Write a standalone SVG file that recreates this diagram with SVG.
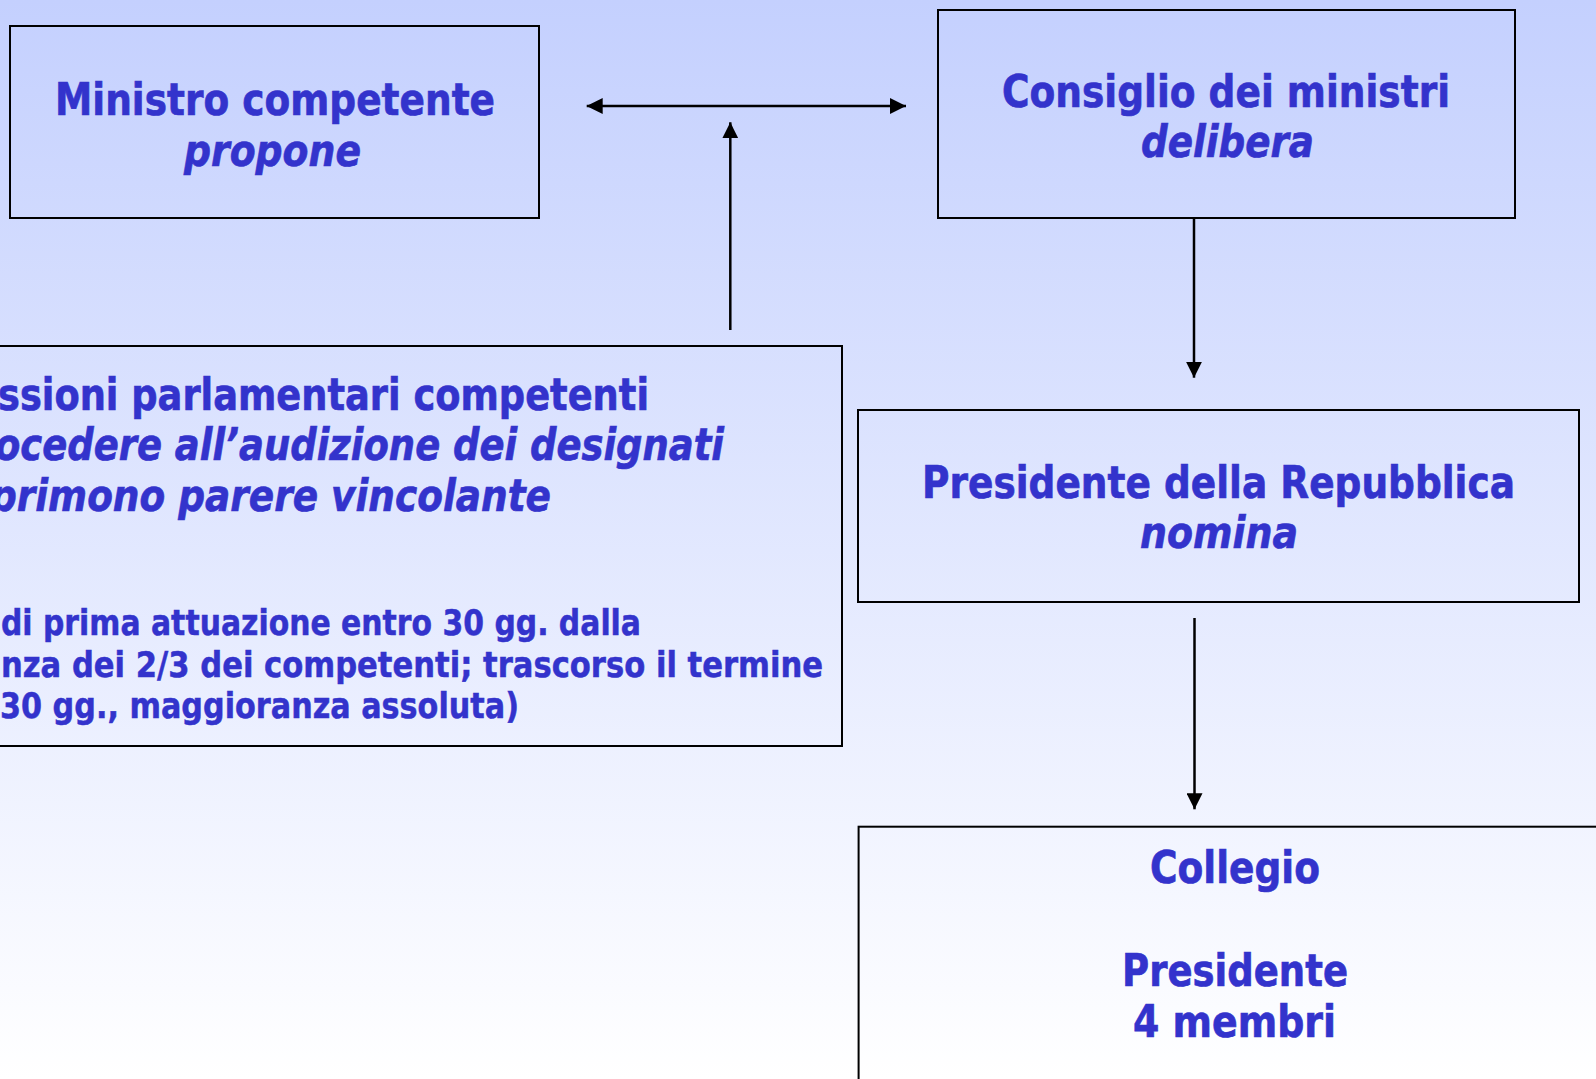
<svg xmlns="http://www.w3.org/2000/svg" width="1596" height="1079" viewBox="0 0 1596 1079">
<defs>
<linearGradient id="bg" x1="0" y1="0" x2="0" y2="1">
<stop offset="0" stop-color="#C4D0FE"/>
<stop offset="1" stop-color="#FFFFFF"/>
</linearGradient>
<marker id="ah" markerUnits="userSpaceOnUse" markerWidth="16" markerHeight="16" refX="16" refY="8" orient="auto-start-reverse" viewBox="0 0 16 16">
<path d="M0,0 L16,8 L0,16 Z" fill="#000"/>
</marker>
</defs>
<style>
.box{fill:none;stroke:#000;stroke-width:2}
.t{font-family:"DejaVu Sans","Liberation Sans",sans-serif;font-weight:bold;fill:#3333CC;stroke:#3333CC;stroke-width:0.7;font-size:45px}
.s{font-size:35px;stroke-width:0.5}
.i{font-style:italic}
.c{stroke:#000;stroke-width:2.5;fill:none}
</style>
<rect x="0" y="0" width="1596" height="1079" fill="url(#bg)"/>
<g id="ministro">
<rect class="box" x="10" y="26" width="529" height="192"/>
<text class="t" x="55" y="115" textLength="440" lengthAdjust="spacingAndGlyphs">Ministro competente</text>
<text class="t i" x="184" y="165.7" textLength="177" lengthAdjust="spacingAndGlyphs">propone</text>
</g>
<g id="consiglio">
<rect class="box" x="938" y="10" width="577" height="208"/>
<text class="t" x="1002" y="106.7" textLength="448" lengthAdjust="spacingAndGlyphs">Consiglio dei ministri</text>
<text class="t i" x="1141" y="156.7" textLength="173" lengthAdjust="spacingAndGlyphs">delibera</text>
</g>
<g id="commissioni">
<rect class="box" x="-20" y="346" width="862" height="400"/>
<text class="t" x="-2" y="410" textLength="651" lengthAdjust="spacingAndGlyphs">ssioni parlamentari competenti</text>
<text class="t i" x="-5" y="460" textLength="729" lengthAdjust="spacingAndGlyphs">ocedere all’audizione dei designati</text>
<text class="t i" x="-10" y="511" textLength="561" lengthAdjust="spacingAndGlyphs">primono parere vincolante</text>
<text class="t s" x="1" y="635" textLength="640" lengthAdjust="spacingAndGlyphs">di prima attuazione entro 30 gg. dalla</text>
<text class="t s" x="1" y="676.7" textLength="822" lengthAdjust="spacingAndGlyphs">nza dei 2/3 dei competenti; trascorso il termine</text>
<text class="t s" x="0" y="717.5" textLength="519" lengthAdjust="spacingAndGlyphs">30 gg., maggioranza assoluta)</text>
</g>
<g id="presidente-repubblica">
<rect class="box" x="858" y="410" width="721" height="192"/>
<text class="t" x="922" y="498.3" textLength="593" lengthAdjust="spacingAndGlyphs">Presidente della Repubblica</text>
<text class="t i" x="1140" y="548.3" textLength="158" lengthAdjust="spacingAndGlyphs">nomina</text>
</g>
<g id="collegio">
<rect class="box" x="858.6" y="826.7" width="800" height="300"/>
<text class="t" x="1150" y="883.3" textLength="170" lengthAdjust="spacingAndGlyphs">Collegio</text>
<text class="t" x="1122" y="985.7" textLength="226" lengthAdjust="spacingAndGlyphs">Presidente</text>
<text class="t" x="1133" y="1036.7" textLength="203" lengthAdjust="spacingAndGlyphs">4 membri</text>
</g>
<g id="connectors">
<line class="c" x1="586.7" y1="106" x2="906" y2="106" marker-start="url(#ah)" marker-end="url(#ah)"/>
<line class="c" x1="730.3" y1="330" x2="730.3" y2="122.3" marker-end="url(#ah)"/>
<line class="c" x1="1194" y1="218" x2="1194" y2="377.7" marker-end="url(#ah)"/>
<line class="c" x1="1194.5" y1="618" x2="1194.5" y2="809.3" marker-end="url(#ah)"/>
</g>
</svg>
